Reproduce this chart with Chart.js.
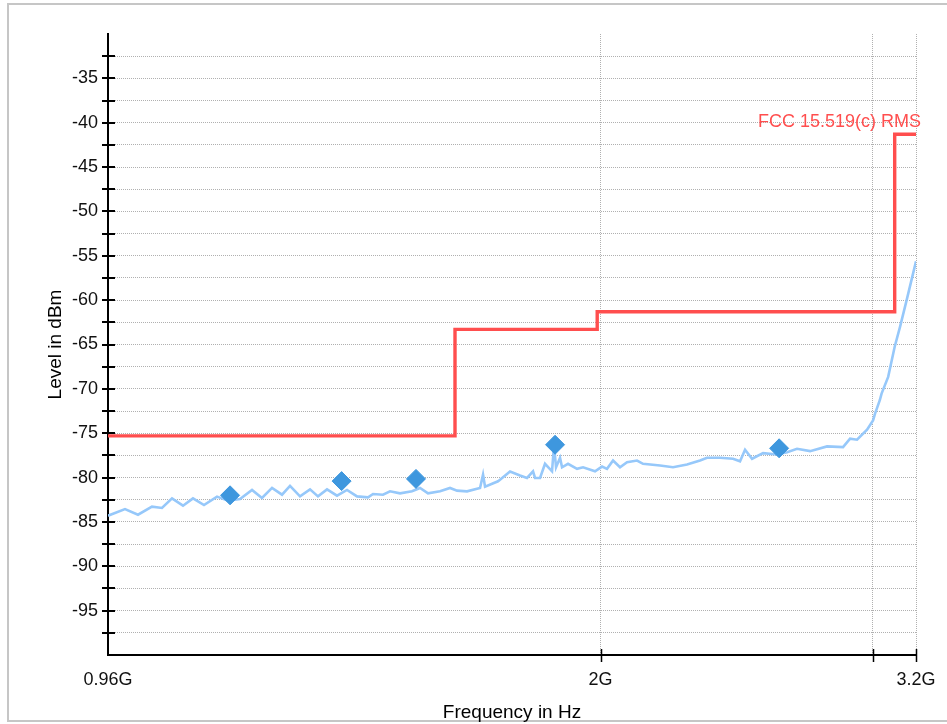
<!DOCTYPE html>
<html>
<head>
<meta charset="utf-8">
<script src="https://cdn.jsdelivr.net/npm/chart.js@4"></script>
<style>
html,body{margin:0;padding:0;background:#fff;}
#wrap{width:947px;height:724px;}
</style>
</head>
<body>
<div id="wrap"><canvas id="c" width="947" height="724"></canvas></div>
<script>
// ---- data (frequency in GHz, level in dBm) ----
const traceFreqGHz = [
  0.9600,0.9846,1.0039,1.0250,1.0404,1.0561,1.0735,1.0896,1.1076,1.1293,
  1.1480,1.1687,1.1898,1.2076,1.2258,1.2442,1.2591,1.2780,1.2972,1.3127,
  1.3305,1.3504,1.3707,1.3913,1.4143,1.4249,1.4462,1.4614,1.4834,1.5101,
  1.5282,1.5466,1.5745,1.5981,1.6149,1.6391,1.6712,1.6787,1.6837,1.7166,
  1.7217,1.7476,1.7738,1.7924,1.8085,1.8139,1.8275,1.8411,1.8604,1.8660,
  1.8716,1.8828,1.8884,1.9053,1.9311,1.9484,1.9836,2.0044,2.0193,2.0375,
  2.0588,2.0804,2.1117,2.1306,2.1853,2.2280,2.2750,2.3195,2.3438,2.3897,
  2.4364,2.4619,2.4804,2.5064,2.5478,2.6015,2.6406,2.6802,2.7326,2.8027,
  2.8704,2.9005,2.9309,2.9749,3.0016,3.0106,3.0320,3.0400,3.0700,3.1000,
  3.1250,3.1580,3.2000
];
const traceLevel = [
  -84.3,-83.55,-84.19,-83.28,-83.43,-82.35,-83.17,-82.35,-83.1,-82.15,
  -82.61,-82.41,-81.39,-82.30,-81.17,-81.93,-80.94,-82.12,-81.33,-82.12,
  -81.33,-82.04,-81.39,-82.12,-82.23,-81.85,-81.93,-81.55,-81.78,-81.55,
  -81.17,-81.78,-81.55,-81.17,-81.47,-81.55,-81.17,-79.66,-81.02,-80.42,
  -80.25,-79.32,-79.77,-80.04,-79.29,-80.04,-80.04,-78.45,-79.29,-76.38,
  -78.84,-77.77,-78.84,-78.45,-79.02,-78.84,-79.29,-78.76,-79.02,-78.08,
  -78.84,-78.27,-78.08,-78.45,-78.64,-78.84,-78.53,-78.08,-77.77,-77.77,
  -77.88,-78.16,-76.87,-77.88,-77.25,-77.40,-77.14,-76.75,-77.02,-76.49,
  -76.57,-75.62,-75.73,-74.6,-73.55,-72.79,-71.28,-70.53,-68.65,-65.25,
  -62.99,-59.77,-55.63
];
const markerFreqGHz = [1.1515, 1.3597, 1.5191, 1.8689, 2.6096];
const markerLevel   = [-82.0, -80.4, -80.15, -76.3, -76.7];
const limitFreqGHz  = [0.96, 1.61, 1.99, 3.1, 3.2];
const limitLevel    = [-75.3, -63.3, -61.3, -41.3, -41.3];
const limitName     = 'FCC 15.519(c) RMS';
const xTickValues   = [0.96, 2, 3, 3.2];
const xTickLabels   = ['0.96G', '2G', '', '3.2G'];
const yMin = -100, yMax = -30, yStep = 2.5;
const xTitle = 'Frequency in Hz';
const yTitle = 'Level in dBm';

const toPts = (xs, ys) => xs.map((x, i) => ({x: x, y: ys[i]}));

const FONT = "'Liberation Sans', Arial, sans-serif";
const RED = 'rgb(255,78,78)';

const decor = {
  id: 'decor',
  beforeDraw(chart) {
    const ctx = chart.ctx;
    ctx.save();
    ctx.fillStyle = '#fff';
    ctx.fillRect(0, 0, chart.width, chart.height);
    ctx.strokeStyle = '#c6c6c6';
    ctx.lineWidth = 2;
    ctx.strokeRect(8, 4, chart.width + 20, 717);
    ctx.restore();
  },
  afterDraw(chart) {
    const ctx = chart.ctx;
    const xs = chart.scales.x, ys = chart.scales.y;
    const area = chart.chartArea;
    ctx.save();
    ctx.strokeStyle = '#000';
    ctx.lineWidth = 2;
    ctx.beginPath();
    ys.ticks.forEach(t => {
      if (t.value <= yMin || t.value >= yMax) return;
      const y = Math.round(ys.getPixelForValue(t.value));
      ctx.moveTo(area.left - 6, y);
      ctx.lineTo(area.left + 7, y);
    });
    ctx.stroke();
    ctx.lineWidth = 1.5;
    ctx.beginPath();
    xTickValues.forEach(v => {
      if (v <= xTickValues[0]) return;
      const x = Math.round(xs.getPixelForValue(v)) + 0.5;
      ctx.moveTo(x, area.bottom - 6);
      ctx.lineTo(x, area.bottom + 7);
    });
    ctx.stroke();
    // limit line name
    ctx.fillStyle = RED;
    ctx.font = '18px ' + FONT;
    ctx.textAlign = 'right';
    ctx.textBaseline = 'middle';
    const lastF = limitFreqGHz[limitFreqGHz.length - 1];
    const lastL = limitLevel[limitLevel.length - 1];
    ctx.fillText(limitName, xs.getPixelForValue(lastF) + 5, ys.getPixelForValue(lastL) - 12);
    ctx.restore();
  }
};

Chart.defaults.font.family = FONT;
Chart.defaults.font.size = 18;
Chart.defaults.color = '#111';

new Chart(document.getElementById('c'), {
  type: 'scatter',
  data: {
    datasets: [
      {
        label: 'Markers',
        data: toPts(markerFreqGHz, markerLevel),
        showLine: false,
        pointStyle: 'rectRot',
        pointRadius: 9.5,
        pointBackgroundColor: '#3e97de',
        pointBorderColor: '#3e97de',
        pointBorderWidth: 1
      },
      {
        label: limitName,
        data: toPts(limitFreqGHz, limitLevel),
        showLine: true,
        stepped: 'before',
        borderColor: RED,
        borderWidth: 3.4,
        pointRadius: 0,
        fill: false
      },
      {
        label: 'Trace',
        data: toPts(traceFreqGHz, traceLevel),
        showLine: true,
        borderColor: 'rgb(150,200,250)',
        borderWidth: 2.6,
        pointRadius: 0,
        tension: 0,
        fill: false
      }
    ]
  },
  options: {
    responsive: false,
    animation: false,
    devicePixelRatio: 1,
    layout: { padding: { top: 34, right: 31, left: 0, bottom: 0 } },
    plugins: { legend: { display: false }, tooltip: { enabled: false } },
    scales: {
      x: {
        type: 'logarithmic',
        min: 0.96,
        max: 3.2,
        afterBuildTicks: s => { s.ticks = xTickValues.map(v => ({ value: v })); },
        afterFit: s => { s.height = 69; s.paddingRight = 0; s.paddingLeft = 0; },
        ticks: {
          autoSkip: false,
          maxRotation: 0,
          padding: 14,
          callback: (v) => {
            const i = xTickValues.findIndex(t => Math.abs(t - v) < 1e-6);
            return i >= 0 ? xTickLabels[i] : '';
          }
        },
        grid: {
          drawTicks: false,
          lineWidth: 1,
          color: ctx => (ctx.tick && ctx.tick.value <= xTickValues[0] + 1e-6) ? 'rgba(0,0,0,0)' : '#b0b0b0'
        },
        border: { display: true, color: '#000', width: 2, dash: [1, 1] },
        title: { display: true, text: xTitle, font: { size: 19 }, color: '#000', padding: { top: 0, bottom: 0 } }
      },
      y: {
        type: 'linear',
        min: yMin,
        max: yMax,
        afterFit: s => { s.width = 108; s.paddingTop = 0; s.paddingBottom = 0; },
        ticks: {
          stepSize: yStep,
          autoSkip: false,
          padding: 10,
          callback: (v) => (v % 5 === 0 && v > yMin && v < yMax) ? String(v) : ''
        },
        grid: {
          drawTicks: false,
          lineWidth: 1,
          color: ctx => (ctx.tick && (ctx.tick.value <= yMin || ctx.tick.value >= yMax)) ? 'rgba(0,0,0,0)' : '#b0b0b0'
        },
        border: { display: true, color: '#000', width: 2, dash: [1, 1] },
        title: { display: true, text: yTitle, font: { size: 19 }, color: '#000', padding: { top: 44, bottom: 0 } }
      }
    }
  },
  plugins: [decor]
});
</script>
</body>
</html>
